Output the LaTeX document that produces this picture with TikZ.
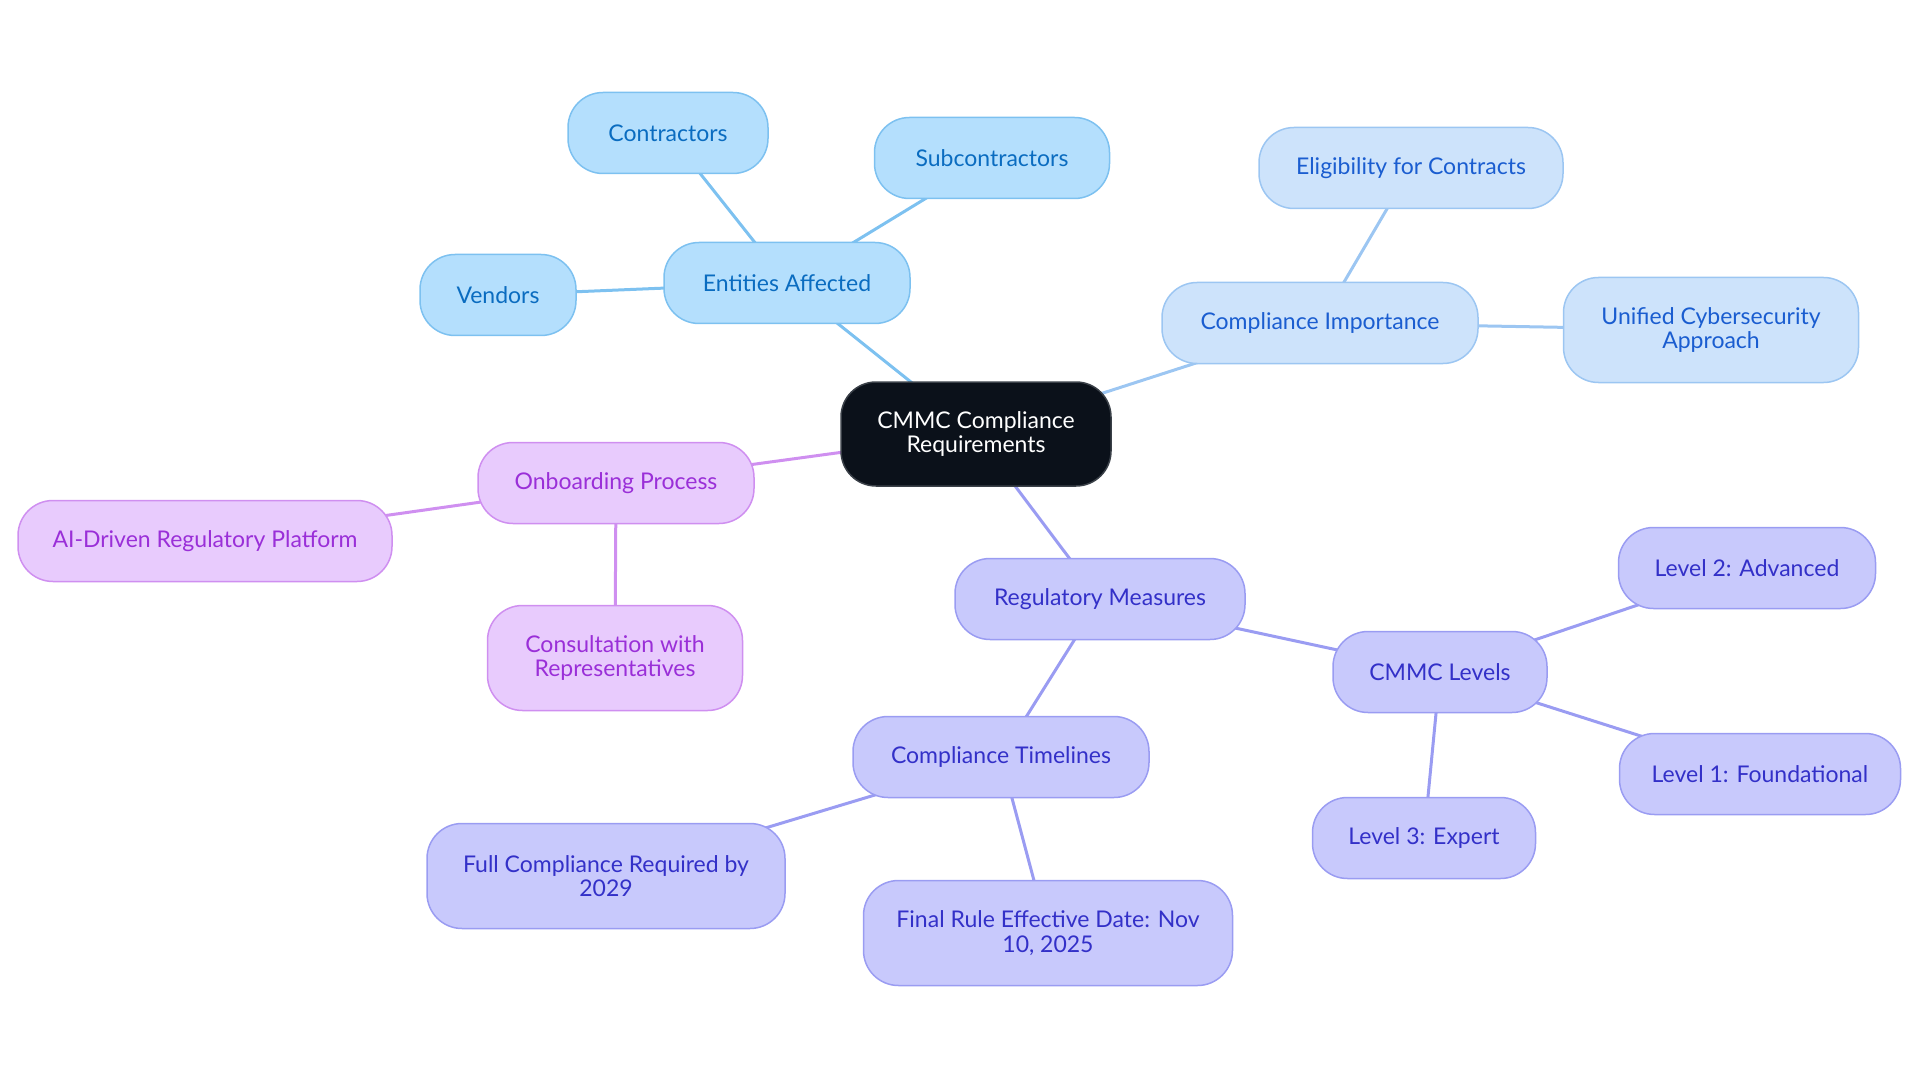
\documentclass[tikz,border=0pt]{standalone}
\usepackage{fontspec}
\setmainfont{Lato}
\usetikzlibrary{backgrounds}
\definecolor{rootfill}{HTML}{0B111A}
\definecolor{rootdraw}{HTML}{3A4048}
\definecolor{bAfill}{HTML}{B4DFFD}
\definecolor{bAdraw}{HTML}{7DC1F0}
\definecolor{bAtext}{HTML}{0A6CC0}
\definecolor{bBfill}{HTML}{CDE3FB}
\definecolor{bBdraw}{HTML}{9CC6F2}
\definecolor{bBtext}{HTML}{1A5DD0}
\definecolor{pfill}{HTML}{E8CBFD}
\definecolor{pdraw}{HTML}{CF8FF0}
\definecolor{ptext}{HTML}{9A2FD8}
\definecolor{ifill}{HTML}{C8C9FC}
\definecolor{idraw}{HTML}{9A9CF2}
\definecolor{itext}{HTML}{3330C8}
\tikzset{
  box/.style={rounded corners=35pt, line width=1.5pt, align=center, inner sep=0pt,
    font=\fontsize{23}{24.5}\selectfont},
  rootbox/.style={box, fill=rootfill, draw=rootdraw, text=white},
  bluea/.style={box, fill=bAfill, draw=bAdraw, text=bAtext},
  blueb/.style={box, fill=bBfill, draw=bBdraw, text=bBtext},
  purp/.style={box, fill=pfill, draw=pdraw, text=ptext},
  indi/.style={box, fill=ifill, draw=idraw, text=itext},
  sz/.style 2 args={minimum width=#1pt, minimum height=#2pt},
  ea/.style={line width=3pt, draw=bAdraw},
  eb/.style={line width=3pt, draw=bBdraw},
  ep/.style={line width=3pt, draw=pdraw},
  ei/.style={line width=3pt, draw=idraw},
}
\begin{document}
\begin{tikzpicture}[x=1pt,y=-1pt]
\useasboundingbox (0,0) rectangle (1920,1083);
\node[rootbox, sz={270}{104}] (root) at (976,434) {CMMC Compliance\\Requirements};
\node[bluea, sz={246}{81}] (ent) at (787,283) {Entities Affected};
\node[bluea, sz={200}{81}] (con) at (668,133) {Contractors};
\node[bluea, sz={235}{81}] (sub) at (992,158) {Subcontractors};
\node[bluea, sz={156}{81}] (ven) at (498,295) {Vendors};
\node[blueb, sz={316}{81}] (imp) at (1320,323) {Compliance Importance};
\node[blueb, sz={304}{81}] (eli) at (1411,168) {Eligibility for Contracts};
\node[blueb, sz={295}{105}] (uni) at (1711,330) {Unified Cybersecurity\\Approach};
\node[purp, sz={276}{81}] (onb) at (616,483) {Onboarding Process};
\node[purp, sz={374}{81}] (ai) at (205,541) {AI-Driven Regulatory Platform};
\node[purp, sz={255}{105}] (cons) at (615,658) {Consultation with\\Representatives};
\node[indi, sz={290}{81}] (reg) at (1100,599) {Regulatory Measures};
\node[indi, sz={214}{81}] (lev) at (1440,672) {CMMC Levels};
\node[indi, sz={257}{81}] (l2) at (1747,568) {Level 2: Advanced};
\node[indi, sz={281}{81}] (l1) at (1760,774) {Level 1: Foundational};
\node[indi, sz={223}{81}] (l3) at (1424,838) {Level 3: Expert};
\node[indi, sz={296}{81}] (tim) at (1001,757) {Compliance Timelines};
\node[indi, sz={358}{105}] (full) at (606,876) {Full Compliance Required by\\2029};
\node[indi, sz={369}{105}] (fin) at (1048,933) {Final Rule Effective Date: Nov\\10, 2025};
\begin{scope}[on background layer]
\draw[ea] (root.center) -- (ent.center);
\draw[ea] (ent.center) -- (con.center);
\draw[ea] (ent.center) -- (sub.center);
\draw[ea] (ent.center) -- (ven.center);
\draw[eb] (root.center) -- (imp.center);
\draw[eb] (imp.center) -- (eli.center);
\draw[eb] (imp.center) -- (uni.center);
\draw[ep] (root.center) -- (onb.center);
\draw[ep] (onb.center) -- (ai.center);
\draw[ep] (onb.center) -- (cons.center);
\draw[ei] (root.center) -- (reg.center);
\draw[ei] (reg.center) -- (lev.center);
\draw[ei] (lev.center) -- (l2.center);
\draw[ei] (lev.center) -- (l1.center);
\draw[ei] (lev.center) -- (l3.center);
\draw[ei] (reg.center) -- (tim.center);
\draw[ei] (tim.center) -- (full.center);
\draw[ei] (tim.center) -- (fin.center);
\end{scope}
\end{tikzpicture}
\end{document}
